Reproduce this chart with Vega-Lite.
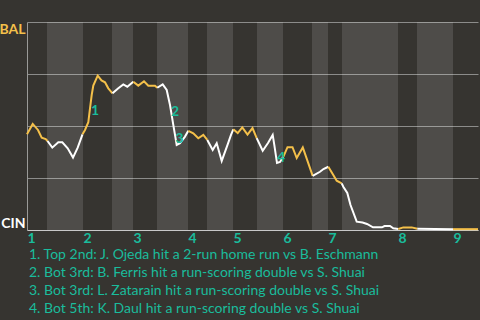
{
  "$schema": "https://vega.github.io/schema/vega-lite/v6.json",
  "autosize": {"type": "none"},
  "padding": {"left": 27, "top": 22, "right": 2, "bottom": 90},
  "width": 451,
  "height": 208,
  "background": "#363430",
  "config": {"view": {"stroke": null}, "font": "Lato"},
  "title": {
    "text": [
      "1. Top 2nd: J. Ojeda hit a 2-run home run vs B. Eschmann",
      "2. Bot 3rd: B. Ferris hit a run-scoring double vs S. Shuai",
      "3. Bot 3rd: L. Zatarain hit a run-scoring double vs S. Shuai",
      "4. Bot 5th: K. Daul hit a run-scoring double vs S. Shuai"
    ],
    "orient": "bottom",
    "anchor": "start",
    "frame": "group",
    "color": "#1abc9c",
    "font": "Lato",
    "fontSize": 14,
    "fontWeight": "normal",
    "lineHeight": 18,
    "offset": 3,
    "dx": 2
  },
  "datasets": {
    "bands": [
      {"start": 20, "end": 56},
      {"start": 85, "end": 106},
      {"start": 130, "end": 161},
      {"start": 180, "end": 206},
      {"start": 230, "end": 256},
      {"start": 285, "end": 301},
      {"start": 315, "end": 371},
      {"start": 390, "end": 426}
    ],
    "wp": [
      {"h": 1, "side": "top", "x": 0, "p": 0.46},
      {"h": 1, "side": "top", "x": 5.7, "p": 0.51},
      {"h": 1, "side": "top", "x": 11, "p": 0.481},
      {"h": 1, "side": "top", "x": 14.7, "p": 0.444},
      {"h": 1, "side": "top", "x": 18.7, "p": 0.4375},
      {"h": 1, "side": "top", "x": 20.5, "p": 0.428},
      {"h": 2, "side": "bot", "x": 20.5, "p": 0.428},
      {"h": 2, "side": "bot", "x": 25.3, "p": 0.396},
      {"h": 2, "side": "bot", "x": 31.3, "p": 0.422},
      {"h": 2, "side": "bot", "x": 35.3, "p": 0.422},
      {"h": 2, "side": "bot", "x": 40.7, "p": 0.393},
      {"h": 2, "side": "bot", "x": 46, "p": 0.348},
      {"h": 2, "side": "bot", "x": 50.7, "p": 0.396},
      {"h": 2, "side": "bot", "x": 55.5, "p": 0.46},
      {"h": 3, "side": "top", "x": 55.5, "p": 0.46},
      {"h": 3, "side": "top", "x": 58, "p": 0.481},
      {"h": 3, "side": "top", "x": 61.3, "p": 0.518},
      {"h": 3, "side": "top", "x": 63, "p": 0.585},
      {"h": 3, "side": "top", "x": 64.7, "p": 0.649},
      {"h": 3, "side": "top", "x": 66.3, "p": 0.694},
      {"h": 3, "side": "top", "x": 70.7, "p": 0.742},
      {"h": 3, "side": "top", "x": 74.5, "p": 0.719},
      {"h": 3, "side": "top", "x": 78, "p": 0.71},
      {"h": 3, "side": "top", "x": 81.3, "p": 0.681},
      {"h": 3, "side": "top", "x": 85.5, "p": 0.657},
      {"h": 4, "side": "bot", "x": 85.5, "p": 0.657},
      {"h": 4, "side": "bot", "x": 91, "p": 0.68},
      {"h": 4, "side": "bot", "x": 96.3, "p": 0.7},
      {"h": 4, "side": "bot", "x": 100.3, "p": 0.689},
      {"h": 4, "side": "bot", "x": 106.3, "p": 0.713},
      {"h": 5, "side": "top", "x": 106.3, "p": 0.713},
      {"h": 5, "side": "top", "x": 111.3, "p": 0.694},
      {"h": 5, "side": "top", "x": 117, "p": 0.715},
      {"h": 5, "side": "top", "x": 121.3, "p": 0.694},
      {"h": 5, "side": "top", "x": 128, "p": 0.694},
      {"h": 5, "side": "top", "x": 130.3, "p": 0.684},
      {"h": 6, "side": "bot", "x": 130.3, "p": 0.684},
      {"h": 6, "side": "bot", "x": 135.7, "p": 0.7},
      {"h": 6, "side": "bot", "x": 139.7, "p": 0.673},
      {"h": 6, "side": "bot", "x": 143, "p": 0.601},
      {"h": 6, "side": "bot", "x": 146.3, "p": 0.505},
      {"h": 6, "side": "bot", "x": 149.7, "p": 0.409},
      {"h": 6, "side": "bot", "x": 153, "p": 0.417},
      {"h": 6, "side": "bot", "x": 158, "p": 0.449},
      {"h": 6, "side": "bot", "x": 161.3, "p": 0.477},
      {"h": 7, "side": "top", "x": 161.3, "p": 0.477},
      {"h": 7, "side": "top", "x": 166.3, "p": 0.465},
      {"h": 7, "side": "top", "x": 171.3, "p": 0.441},
      {"h": 7, "side": "top", "x": 176.3, "p": 0.457},
      {"h": 7, "side": "top", "x": 180.3, "p": 0.433},
      {"h": 8, "side": "bot", "x": 180.3, "p": 0.433},
      {"h": 8, "side": "bot", "x": 185.7, "p": 0.385},
      {"h": 8, "side": "bot", "x": 189.7, "p": 0.417},
      {"h": 8, "side": "bot", "x": 194.7, "p": 0.332},
      {"h": 8, "side": "bot", "x": 200.7, "p": 0.412},
      {"h": 8, "side": "bot", "x": 204, "p": 0.457},
      {"h": 8, "side": "bot", "x": 206.3, "p": 0.484},
      {"h": 9, "side": "top", "x": 206.3, "p": 0.484},
      {"h": 9, "side": "top", "x": 210.7, "p": 0.466},
      {"h": 9, "side": "top", "x": 215.3, "p": 0.493},
      {"h": 9, "side": "top", "x": 220.5, "p": 0.459},
      {"h": 9, "side": "top", "x": 225.5, "p": 0.49},
      {"h": 9, "side": "top", "x": 229.7, "p": 0.442},
      {"h": 10, "side": "bot", "x": 229.7, "p": 0.442},
      {"h": 10, "side": "bot", "x": 235.7, "p": 0.381},
      {"h": 10, "side": "bot", "x": 241, "p": 0.418},
      {"h": 10, "side": "bot", "x": 245.7, "p": 0.457},
      {"h": 10, "side": "bot", "x": 247.3, "p": 0.409},
      {"h": 10, "side": "bot", "x": 250, "p": 0.322},
      {"h": 10, "side": "bot", "x": 253, "p": 0.327},
      {"h": 10, "side": "bot", "x": 256.3, "p": 0.352},
      {"h": 11, "side": "top", "x": 256.3, "p": 0.352},
      {"h": 11, "side": "top", "x": 260.5, "p": 0.398},
      {"h": 11, "side": "top", "x": 265.5, "p": 0.398},
      {"h": 11, "side": "top", "x": 269.7, "p": 0.346},
      {"h": 11, "side": "top", "x": 275.8, "p": 0.397},
      {"h": 11, "side": "top", "x": 285.7, "p": 0.26},
      {"h": 12, "side": "bot", "x": 285.7, "p": 0.26},
      {"h": 12, "side": "bot", "x": 293, "p": 0.28},
      {"h": 12, "side": "bot", "x": 296.5, "p": 0.293},
      {"h": 12, "side": "bot", "x": 301.3, "p": 0.304},
      {"h": 13, "side": "top", "x": 301.3, "p": 0.304},
      {"h": 13, "side": "top", "x": 306.3, "p": 0.264},
      {"h": 13, "side": "top", "x": 309.7, "p": 0.237},
      {"h": 13, "side": "top", "x": 314.7, "p": 0.224},
      {"h": 14, "side": "bot", "x": 314.7, "p": 0.224},
      {"h": 14, "side": "bot", "x": 316.3, "p": 0.208},
      {"h": 14, "side": "bot", "x": 320.3, "p": 0.178},
      {"h": 14, "side": "bot", "x": 323.5, "p": 0.12},
      {"h": 14, "side": "bot", "x": 329.7, "p": 0.04},
      {"h": 14, "side": "bot", "x": 335.5, "p": 0.036},
      {"h": 14, "side": "bot", "x": 340, "p": 0.029},
      {"h": 14, "side": "bot", "x": 346, "p": 0.013},
      {"h": 14, "side": "bot", "x": 355, "p": 0.013},
      {"h": 14, "side": "bot", "x": 357.5, "p": 0.019},
      {"h": 14, "side": "bot", "x": 363, "p": 0.019},
      {"h": 14, "side": "bot", "x": 366.3, "p": 0.008},
      {"h": 14, "side": "bot", "x": 371.3, "p": 0.005},
      {"h": 15, "side": "top", "x": 371.3, "p": 0.005},
      {"h": 15, "side": "top", "x": 376.3, "p": 0.0125},
      {"h": 15, "side": "top", "x": 384.7, "p": 0.0125},
      {"h": 15, "side": "top", "x": 390.3, "p": 0.006},
      {"h": 16, "side": "bot", "x": 390.3, "p": 0.006},
      {"h": 16, "side": "bot", "x": 426, "p": 0.004},
      {"h": 17, "side": "top", "x": 426, "p": 0.004},
      {"h": 17, "side": "top", "x": 451, "p": 0.004}
    ],
    "notes": [
      {"x": 68, "p": 0.572, "label": "1"},
      {"x": 148, "p": 0.566, "label": "2"},
      {"x": 152.3, "p": 0.4375, "label": "3"},
      {"x": 254, "p": 0.345, "label": "4"}
    ]
  },
  "layer": [
    {
      "data": {"name": "bands"},
      "mark": {"type": "rect", "color": "#ffffff", "opacity": 0.12},
      "encoding": {
        "x": {
          "field": "start",
          "type": "quantitative",
          "scale": {"domain": [0, 451], "nice": false, "zero": false},
          "axis": {
            "values": [0, 56, 106, 161, 206, 256, 301, 371, 426],
            "labelExpr": "indexof([0, 56, 106, 161, 206, 256, 301, 371, 426], datum.value) + 1",
            "title": null,
            "grid": false,
            "ticks": false,
            "domainColor": "#c8c8c8",
            "domainWidth": 1,
            "labelColor": "#1abc9c",
            "labelFont": "Lato",
            "labelFontSize": 14,
            "labelFontWeight": "bold",
            "labelAlign": "left",
            "labelBaseline": "top",
            "labelPadding": 1,
            "labelFlush": false,
            "labelOverlap": false
          }
        },
        "x2": {"field": "end"}
      }
    },
    {
      "data": {"name": "wp"},
      "mark": {"type": "line", "strokeWidth": 2, "strokeJoin": "miter", "interpolate": "linear"},
      "encoding": {
        "x": {"field": "x", "type": "quantitative"},
        "y": {
          "field": "p",
          "type": "quantitative",
          "scale": {"domain": [0, 1], "nice": false, "zero": false},
          "axis": {
            "values": [0, 0.25, 0.5, 0.75, 1],
            "labelExpr": "datum.value == 1 ? 'BAL' : (datum.value == 0 ? 'CIN' : '')",
            "title": null,
            "grid": true,
            "gridColor": "#8c8c8a",
            "gridWidth": 1,
            "ticks": false,
            "domainColor": "#9a9a98",
            "domainWidth": 1,
            "labelFont": "Lato",
            "labelFontSize": 14,
            "labelFontWeight": "bold",
            "labelColor": {"condition": {"test": "datum.value == 1", "value": "#f4c04a"}, "value": "#ffffff"},
            "labelBaseline": {"condition": {"test": "datum.value == 1", "value": "top"}, "value": "bottom"},
            "labelPadding": 2,
            "labelOverlap": false,
            "labelFlush": false
          }
        },
        "color": {
          "field": "side",
          "type": "nominal",
          "scale": {"domain": ["top", "bot"], "range": ["#f4c04a", "#ffffff"]},
          "legend": null
        },
        "detail": {"field": "h", "type": "quantitative"},
        "order": {"field": "x", "type": "quantitative"}
      }
    },
    {
      "data": {"name": "notes"},
      "mark": {"type": "text", "color": "#1abc9c", "font": "Lato", "fontSize": 14, "fontWeight": "bold", "align": "center", "baseline": "middle"},
      "encoding": {
        "x": {"field": "x", "type": "quantitative"},
        "y": {"field": "p", "type": "quantitative"},
        "text": {"field": "label"}
      }
    }
  ]
}
